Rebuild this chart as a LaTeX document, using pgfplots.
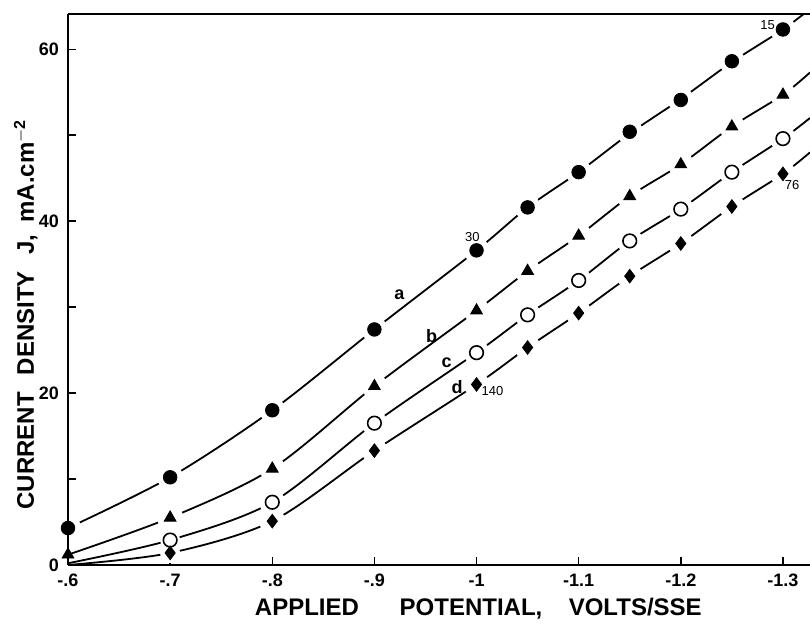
\documentclass[border=0pt]{standalone}
\usepackage{pgfplots}
\pgfplotsset{compat=1.18}
\usepackage{fontspec}
\setmainfont{Liberation Sans}
\usetikzlibrary{calc}
\begin{document}
\begin{tikzpicture}
\begin{axis}[
  name=ax,
  set layers,
  scale only axis,
  width=371pt, height=275.5pt,
  x dir=reverse,
  xmin=-1.3265, xmax=-0.6,
  ymin=0, ymax=64.1,
  axis x line*=bottom, axis y line*=left,
  axis line style={line width=0.9pt},
  xtick={-0.6,-0.7,-0.8,-0.9,-1.0,-1.1,-1.2,-1.3},
  xticklabels={-.6,-.7,-.8,-.9,-1,-1.1,-1.2,-1.3},
  ytick={0,20,40,60},
  yticklabels={0,20,40,60},
  minor ytick={10,30,50},
  tick align=inside,
  major tick length=4pt, minor tick length=4pt,
  tick style={line width=0.7pt, black},
  ticklabel style={font=\bfseries\fontsize{9}{10}\selectfont},
  xticklabel style={yshift=-1pt},
  yticklabel style={xshift=-1pt},
  xlabel={APPLIED\hspace{1.7em}POTENTIAL,\hspace{1.1em}VOLTS/SSE},
  ylabel={CURRENT\hspace{0.7em}DENSITY\hspace{0.7em}J,\hspace{0.5em}mA.cm$^{\mathbf{-2}}$},
  label style={font=\bfseries\fontsize{12}{14}\selectfont},
  xlabel style={at={(axis description cs:0.553,0)}, anchor=north, yshift=-13pt},
  ylabel style={at={(axis description cs:-0.057,0.455)}, anchor=center},
  clip=true,
]
% curves
\addplot[black, line width=0.9pt, smooth, tension=0.5] coordinates {
(-0.6,4.3) (-0.7,10.2) (-0.8,18.0) (-0.9,27.4) (-1.0,36.6) (-1.05,41.6) (-1.1,45.7) (-1.15,50.2) (-1.2,54.2) (-1.25,58.5) (-1.3,62.3) (-1.33,65.0)};
\addplot[black, line width=0.9pt, smooth, tension=0.5] coordinates {
(-0.6,1.2) (-0.7,5.5) (-0.8,11.2) (-0.9,20.8) (-1.0,29.6) (-1.05,34.2) (-1.1,38.3) (-1.15,42.9) (-1.2,46.6) (-1.25,51.0) (-1.3,54.7) (-1.3265,57.3)};
\addplot[black, line width=0.9pt, smooth, tension=0.5] coordinates {
(-0.6,0.2) (-0.7,2.9) (-0.8,7.3) (-0.9,16.5) (-1.0,24.7) (-1.05,29.1) (-1.1,33.1) (-1.15,37.7) (-1.2,41.4) (-1.25,45.7) (-1.3,49.6) (-1.3265,52.0)};
\addplot[black, line width=0.9pt, smooth, tension=0.5] coordinates {
(-0.6,0.0) (-0.7,1.4) (-0.8,5.1) (-0.9,13.3) (-1.0,21.0) (-1.05,25.3) (-1.1,29.3) (-1.15,33.6) (-1.2,37.4) (-1.25,41.7) (-1.3,45.5) (-1.3265,48.0)};
% white halos
\addplot[only marks, mark=*, mark size=6.3pt, draw=white, fill=white] coordinates {
(-0.6,4.3) (-0.7,10.2) (-0.8,18.0) (-0.9,27.4) (-1.0,36.6) (-1.05,41.6) (-1.1,45.7) (-1.15,50.4) (-1.2,54.1) (-1.25,58.6) (-1.3,62.3)
(-0.7,5.5) (-0.8,11.2) (-0.9,20.8) (-1.0,29.6) (-1.05,34.2) (-1.1,38.3) (-1.15,42.9) (-1.2,46.6) (-1.25,51.0) (-1.3,54.7)
(-0.8,7.3) (-0.9,16.5) (-1.0,24.7) (-1.05,29.1) (-1.1,33.1) (-1.15,37.7) (-1.2,41.4) (-1.25,45.7) (-1.3,49.6)
(-0.8,5.1) (-0.9,13.3) (-1.0,21.0) (-1.05,25.3) (-1.1,29.3) (-1.15,33.6) (-1.2,37.4) (-1.25,41.7) (-1.3,45.5)};
\addplot[only marks, mark=*, mark size=4.8pt, draw=white, fill=white] coordinates {
(-0.7,2.9) (-0.7,1.4)};
% markers
\addplot[only marks, mark=*, mark size=3.4pt, black] coordinates {
(-0.6,4.3) (-0.7,10.2) (-0.8,18.0) (-0.9,27.4) (-1.0,36.6) (-1.05,41.6) (-1.1,45.7) (-1.15,50.4) (-1.2,54.1) (-1.25,58.6) (-1.3,62.3)};
\addplot[only marks, mark=triangle*, mark size=3.4pt, black] coordinates {
(-0.6,1.2) (-0.7,5.5) (-0.8,11.2) (-0.9,20.8) (-1.0,29.6) (-1.05,34.2) (-1.1,38.3) (-1.15,42.9) (-1.2,46.6) (-1.25,51.0) (-1.3,54.7)};
\addplot[only marks, mark=o, mark size=3.4pt, black, mark options={line width=0.8pt, fill=white}] coordinates {
(-0.7,2.9) (-0.8,7.3) (-0.9,16.5) (-1.0,24.7) (-1.05,29.1) (-1.1,33.1) (-1.15,37.7) (-1.2,41.4) (-1.25,45.7) (-1.3,49.6)};
\addplot[only marks, mark=diamond*, mark size=3.4pt, black] coordinates {
(-0.7,1.4) (-0.8,5.1) (-0.9,13.3) (-1.0,21.0) (-1.05,25.3) (-1.1,29.3) (-1.15,33.6) (-1.2,37.4) (-1.25,41.7) (-1.3,45.5)};
% labels
\begin{pgfonlayer}{axis foreground}
\node[font=\bfseries\fontsize{9}{10}\selectfont] at (axis cs:-0.9245,31.4) {a};
\node[font=\bfseries\fontsize{9}{10}\selectfont] at (axis cs:-0.956,26.6) {b};
\node[font=\bfseries\fontsize{9}{10}\selectfont] at (axis cs:-0.9706,23.5) {c};
\node[font=\bfseries\fontsize{9}{10}\selectfont] at (axis cs:-0.981,20.7) {d};
\node[font=\rmfamily\fontsize{6.5}{7}\selectfont] at (axis cs:-0.996,38.1) {30};
\node[font=\rmfamily\fontsize{6.5}{7}\selectfont] at (axis cs:-1.285,62.8) {15};
\node[font=\rmfamily\fontsize{6.5}{7}\selectfont] at (axis cs:-1.309,44.2) {76};
\node[font=\rmfamily\fontsize{6.5}{7}\selectfont] at (axis cs:-1.0157,20.2) {140};
\end{pgfonlayer}
\end{axis}
\draw[line width=0.9pt] (ax.north west) -- (ax.north east);
\draw[line width=0.9pt] (ax.south west) -- (ax.south east);
\draw[line width=0.9pt] (ax.south west) -- (ax.north west);
\pgfresetboundingbox
\path ($(ax.south west)+(-34pt,-29.5pt)$) rectangle ($(ax.north east)+(0pt,7pt)$);
\end{tikzpicture}
\end{document}
